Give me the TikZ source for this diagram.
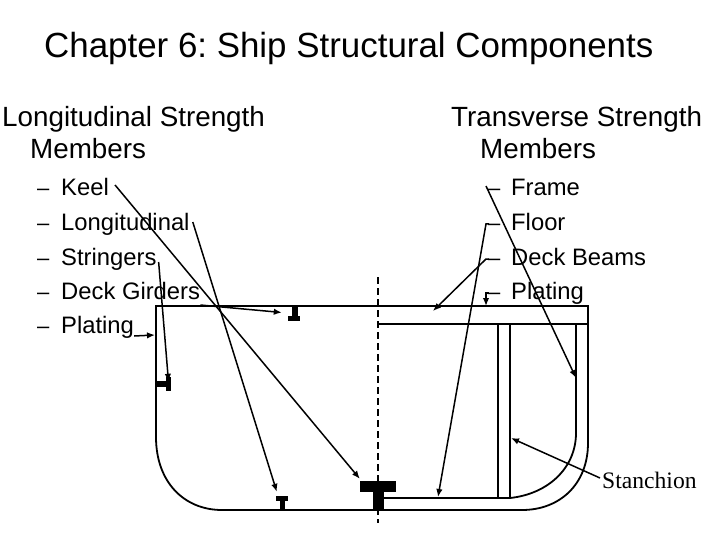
\documentclass[tikz,border=0pt]{standalone}
\usepackage{fontspec}
\setmainfont{Liberation Sans}
\newfontfamily\serifname{Liberation Serif}
\usepackage{tikz}
\usetikzlibrary{arrows.meta,positioning}

\begin{document}
\frenchspacing
\begin{tikzpicture}[
  x=1pt, y=-1pt,
  head/.style={anchor=base west, inner sep=0pt, font=\fontsize{27.8}{30}\selectfont},
  item/.style={anchor=base west, inner sep=0pt, font=\fontsize{23.8}{26}\selectfont},
  dashmark/.style={anchor=base west, inner sep=0pt, font=\fontsize{22}{24}\selectfont},
  bar/.style={fill=black, inner sep=0pt},
  hull/.style={line width=1.8pt},
  arr/.style={-{Latex[length=8pt,width=6.5pt]}, line width=1.5pt},
]
  \useasboundingbox (0,0) rectangle (720,540);

  % Titles
  \node[anchor=base west, inner sep=0pt, font=\fontsize{34.9}{38}\selectfont] (title) at (44,58) {Chapter 6: Ship Structural Components};
  \node[head] (longHead) at (2,127) {Longitudinal Strength};
  \node[head] (longMem) at (30,159) {Members};
  \node[head] (transHead) at (451,127) {Transverse Strength};
  \node[head] (transMem) at (480,159) {Members};

  % Left list
  \node[dashmark] (dashA) at (37,196) {--};
  \node[dashmark] (dashB) at (37,230) {--};
  \node[dashmark] (dashC) at (37,265) {--};
  \node[dashmark] (dashD) at (37,299) {--};
  \node[dashmark] (dashE) at (37,333) {--};
  \node[item] (keel) at (61,196) {Keel};
  \node[item] (longi) at (61,230) {Longitudinal};
  \node[item] (stringers) at (61,265) {Stringers};
  \node[item] (girders) at (61,299) {Deck Girders};
  \node[item] (platingL) at (61,333) {Plating};

  % Right list
  \node[dashmark] (dashF) at (488,196) {--};
  \node[dashmark] (dashG) at (488,230) {--};
  \node[dashmark] (dashH) at (488,265) {--};
  \node[dashmark] (dashI) at (488,299) {--};
  \node[item] (frame) at (511,196) {Frame};
  \node[item] (floor) at (511,230) {Floor};
  \node[item] (beams) at (511,265) {Deck Beams};
  \node[item] (platingR) at (511,299) {Plating};
  \node[anchor=base west, inner sep=0pt, font=\serifname\fontsize{23.6}{26}\selectfont] (stanchion) at (602,488) {Stanchion};

  % Hull section
  \draw[hull] (156,306) -- (588,306) -- (588,443) .. controls (588,484) and (560,510) .. (522,510)
    -- (222,510) .. controls (184,510) and (156,482) .. (156,437) -- cycle;
  \draw[hull] (378,324) -- (588,324);
  \draw[hull] (378,498) -- (510,498) .. controls (548,494) and (576,468) .. (576,433) -- (576,324);
  \draw[hull] (498,324) -- (498,498);
  \draw[hull] (510,324) -- (510,498);
  \draw[line width=1.5pt, dash pattern=on 7pt off 4pt] (378,277) -- (378,523);

  % Stiffeners
  \node[bar, minimum width=36pt, minimum height=11pt] (keelFlange) at (378,486.5) {};
  \node[bar, minimum width=11pt, minimum height=18pt] (keelWeb) at (378.5,501) {};
  \node[bar, minimum width=12pt, minimum height=5pt] (lowFlange) at (282,498.5) {};
  \node[bar, minimum width=5pt, minimum height=9pt] (lowWeb) at (282.5,505.5) {};
  \node[bar, minimum width=12pt, minimum height=5pt] (deckFlange) at (294,318.5) {};
  \node[bar, minimum width=6pt, minimum height=11pt] (deckWeb) at (295,311.5) {};
  \node[bar, minimum width=5pt, minimum height=14pt] (sideFlange) at (168.5,384) {};
  \node[bar, minimum width=10pt, minimum height=6pt] (sideWeb) at (161,384) {};

  % Free ends on the hull
  \coordinate (sideEnd) at (155,335);
  \coordinate (frameEnd) at (576,378);
  \coordinate (floorEnd) at (438,497);
  \coordinate (beamEnd) at (433,311);
  \coordinate (platEnd) at (486,306);
  \coordinate (postEnd) at (511,438);

  % Left leaders
  \draw[arr] ([shift={(6,-11)}]keel.base east) -- ([shift={(0,-2)}]keelFlange.north west);
  \draw[arr] ([shift={(3,-8)}]longi.base east) -- ([shift={(1,-4)}]lowFlange.north west);
  \draw[arr] ([shift={(2,-3)}]stringers.base east) -- ([yshift=-5]sideFlange.north);
  \draw[arr] ([yshift=-6]girders.base east) -- ([shift={(-6,-6)}]deckFlange.west);
  \draw[arr] ([yshift=-3]platingL.base east) -- (sideEnd);

  % Right leaders
  \draw[arr] ([shift={(-2,-10)}]dashF.base west) -- (frameEnd);
  \draw[arr] ([shift={(1,-6)}]dashG.base west) -- ++(-3,0) -- (floorEnd);
  \draw[arr] ([shift={(1,-6)}]dashH.base west) -- ++(-3,0) -- (beamEnd);
  \draw[arr] ([shift={(1,-6)}]dashI.base west) -- ++(-3,0) -- (platEnd);
  \draw[arr] ([shift={(-2,-10)}]stanchion.base west) -- (postEnd);
\end{tikzpicture}
\end{document}
